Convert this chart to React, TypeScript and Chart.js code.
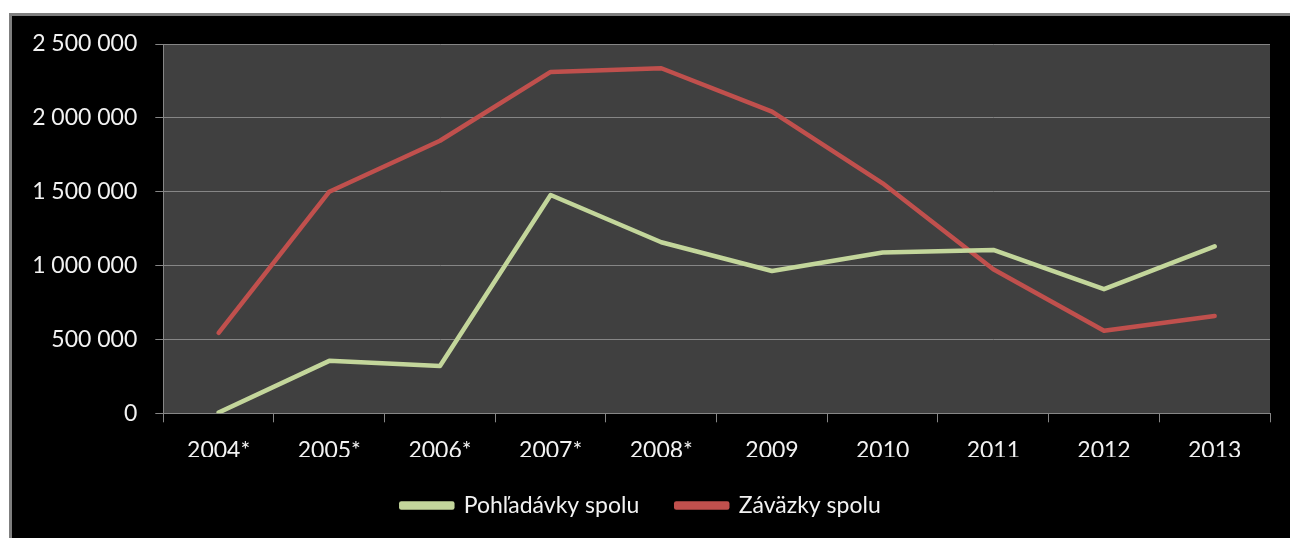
import React, { useEffect, useRef } from "react";
import { Chart, registerables } from "chart.js";

Chart.register(...registerables);

const categories = ["2004*", "2005*", "2006*", "2007*", "2008*", "2009", "2010", "2011", "2012", "2013"];
const pohladavkySpolu = [5000, 355000, 320000, 1478000, 1158000, 963000, 1088000, 1106000, 840000, 1130000];
const zavazkySpolu = [545000, 1500000, 1845000, 2311000, 2336000, 2042000, 1557000, 975000, 559000, 659000];
const yTickMin = 0;
const yTickMax = 2500000;
const yTickStep = 500000;

const FONT = "Lato";
const TEXT = "#f2f2f2";
const GRID = "#868686";

const fmt = (v: number) => String(v).replace(/\B(?=(\d{3})+(?!\d))/g, " ");

const plotBg = {
  id: "plotBg",
  beforeDraw(chart: any) {
    const { ctx, chartArea } = chart;
    if (!chartArea) return;
    ctx.save();
    ctx.fillStyle = "#404040";
    ctx.fillRect(chartArea.left, chartArea.top, chartArea.right - chartArea.left, chartArea.bottom - chartArea.top);
    ctx.restore();
  },
};

export default function App() {
  const ref = useRef<HTMLCanvasElement | null>(null);
  useEffect(() => {
    if (!ref.current) return;
    const chart = new Chart(ref.current, {
      type: "line",
      data: {
        labels: categories,
        datasets: [
          {
            label: "Pohľadávky spolu",
            data: pohladavkySpolu,
            borderColor: "#c3d69b",
            backgroundColor: "#c3d69b",
            borderWidth: 4.5,
            pointRadius: 0,
            tension: 0,
            borderCapStyle: "round",
            borderJoinStyle: "round",
          },
          {
            label: "Záväzky spolu",
            data: zavazkySpolu,
            borderColor: "#c0504d",
            backgroundColor: "#c0504d",
            borderWidth: 4.5,
            pointRadius: 0,
            tension: 0,
            borderCapStyle: "round",
            borderJoinStyle: "round",
          },
        ],
      },
      options: {
        animation: false,
        responsive: false,
        maintainAspectRatio: false,
        layout: { padding: { top: 28, right: 20, left: 0, bottom: 11 } },
        plugins: {
          tooltip: { enabled: false },
          legend: {
            position: "bottom",
            labels: {
              color: TEXT,
              font: { family: FONT, size: 23 },
              boxWidth: 51,
              boxHeight: 4,
              padding: 37,
            },
          },
        },
        scales: {
          x: {
            offset: true,
            grid: { offset: true, drawOnChartArea: false, drawTicks: true, tickLength: 9, color: GRID },
            border: { display: true, color: GRID, width: 1 },
            ticks: { color: TEXT, font: { family: FONT, size: 23 }, padding: 14, maxRotation: 0 },
            afterFit: (s: any) => {
              s.height = 43.7;
            },
          },
          y: {
            min: yTickMin,
            max: yTickMax,
            grid: { color: GRID, drawTicks: true, tickLength: 8 },
            border: { display: true, color: GRID, width: 1 },
            ticks: {
              stepSize: yTickStep,
              color: TEXT,
              font: { family: FONT, size: 23 },
              padding: 18,
              callback: (v: any) => fmt(Number(v)),
            },
            afterFit: (s: any) => {
              s.width = 151.3;
              s.paddingTop = 0;
              s.paddingBottom = 0;
            },
          },
        },
      },
      plugins: [plotBg],
    });
    return () => chart.destroy();
  }, []);

  return (
    <div
      style={{
        position: "absolute",
        left: 9,
        top: 13,
        width: 1278,
        height: 522,
        borderLeft: "3px solid #7f7f7f",
        borderTop: "3px solid #7f7f7f",
        background: "#000",
      }}
    >
      <canvas ref={ref} width={1278} height={522} style={{ display: "block" }} />
    </div>
  );
}
